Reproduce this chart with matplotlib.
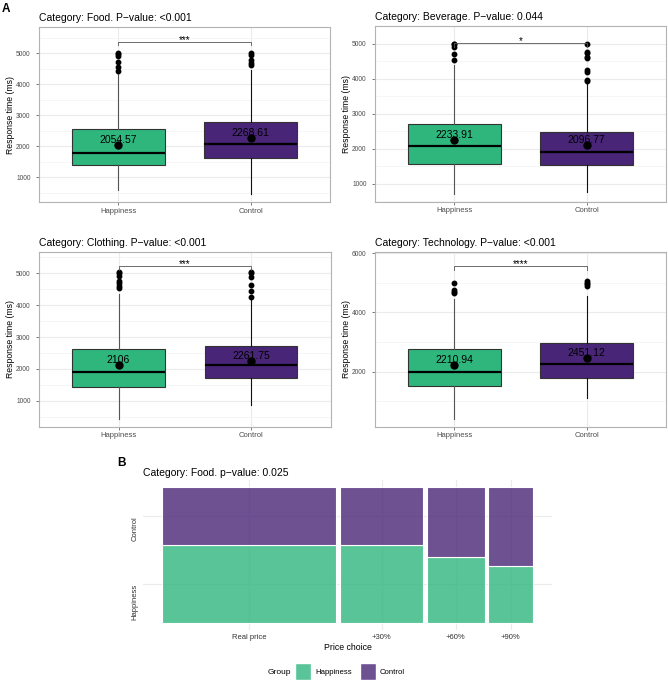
# Recreate the two-part figure: response-time boxplots (A) and a mosaic of price choice (B)
import numpy as np
import matplotlib.pyplot as plt
from matplotlib.colors import to_rgba
from matplotlib.patches import Patch

plt.rcParams['font.family'] = ['Liberation Sans', 'DejaVu Sans']

groups = ["Happiness", "Control"]
group_colors = ["#2EB67D", "#482576"]

# Panel A - boxplot summaries (Happiness, Control)
categories = ["Food", "Beverage", "Clothing", "Technology"]
p_values = ["<0.001", "0.044", "<0.001", "<0.001"]
stars = ["***", "*", "***", "****"]

q1 = [[1400, 1635], [1565, 1517], [1421, 1703], [1525, 1797]]
medians = [[1780, 2065], [2085, 1912], [1901, 2121], [1990, 2271]]
q3 = [[2550, 2775], [2695, 2477], [2614, 2708], [2759, 2963]]
whisker_low = [[590, 450], [690, 760], [416, 865], [386, 1098]]
whisker_high = [[4350, 4450], [4390, 3880], [4350, 4150], [4450, 4550]]
means = [[2054.57, 2268.61], [2233.91, 2096.77], [2106.00, 2261.75], [2210.94, 2451.12]]
outliers = [
    [[4420, 4560, 4730, 4920, 4980, 5000], [4630, 4700, 4800, 4950, 5000]],
    [[4540, 4700, 4900, 4980, 5000], [3930, 3960, 4200, 4250, 4580, 4620, 4720, 4750, 5000]],
    [[4550, 4600, 4700, 4750, 4900, 5000, 5030], [4260, 4440, 4620, 4880, 5000, 5030]],
    [[4650, 4700, 4750, 5000], [4880, 4950, 5000, 5050]],
]
bracket_y = [5370, 5010, 5229, 5569]
y_limits = [(200, 5850), (480, 5443), (184, 5678), (136, 6054)]
y_ticks = [[1000, 2000, 3000, 4000, 5000]] * 3 + [[2000, 4000, 6000]]
y_minor = [[500, 1500, 2500, 3500, 4500, 5500]] * 3 + [[1000, 3000, 5000]]

# Panel B - counts per price choice
price_choices = ["Real price", "+30%", "+60%", "+90%"]
happiness_counts = np.array([278, 132, 78, 52])
control_counts = np.array([206, 99, 82, 73])

W, H = 668, 680


def px_axes(fig, left, top, right, bottom):
    return fig.add_axes([left / W, (H - bottom) / H, (right - left) / W, (bottom - top) / H])


def fmt(v):
    return ("%.2f" % v).rstrip("0").rstrip(".")


def draw_box_panel(ax, i):
    stats = []
    for g in range(2):
        stats.append(dict(q1=q1[i][g], med=medians[i][g], q3=q3[i][g],
                          whislo=whisker_low[i][g], whishi=whisker_high[i][g],
                          fliers=outliers[i][g], label=groups[g]))
    bp = ax.bxp(stats, positions=[1, 2], widths=0.7, patch_artist=True, showcaps=False,
                boxprops=dict(edgecolor="#333333", linewidth=0.8),
                medianprops=dict(color="black", linewidth=1.6),
                whiskerprops=dict(linewidth=0.8),
                flierprops=dict(marker="o", markerfacecolor="black",
                                markeredgecolor="black", markersize=3.2))
    for patch, c in zip(bp["boxes"], group_colors):
        patch.set_facecolor(c)
    for k, w in enumerate(bp["whiskers"]):
        w.set_color("#555555" if k < 2 else "#111111")

    ax.plot([1, 2], means[i], "o", color="black", ms=5, zorder=4)
    for x, m in zip([1, 2], means[i]):
        ax.text(x, m, fmt(m), ha="center", va="bottom", fontsize=7.5, zorder=5)

    # significance bracket
    lo, hi = y_limits[i]
    t = 0.02 * (hi - lo)
    yb = bracket_y[i]
    ax.plot([1, 1, 2, 2], [yb - t, yb, yb, yb - t], color="#555555", lw=0.6)
    ax.annotate(stars[i], (1.5, yb), xytext=(0, -1), textcoords="offset points",
                ha="center", va="baseline", fontsize=7)

    ax.set_xlim(0.4, 2.6)
    ax.set_ylim(lo, hi)
    ax.set_yticks(y_ticks[i])
    ax.set_yticks(y_minor[i], minor=True)
    ax.set_xticks([1, 2], groups)
    ax.grid(which="major", color="#EBEBEB", lw=0.8)
    ax.grid(which="minor", axis="y", color="#F3F3F3", lw=0.5)
    ax.set_axisbelow(True)
    for s in ax.spines.values():
        s.set_color("#B3B3B3")
        s.set_linewidth(0.8)
    ax.tick_params(which="minor", length=0)
    ax.tick_params(axis="y", labelsize=4.8, length=2.5, width=0.6, color="#666666",
                   pad=3.5, labelcolor="#4D4D4D")
    ax.tick_params(axis="x", labelsize=5.5, length=2, width=0.6, color="#666666",
                   pad=2, labelcolor="#4D4D4D")
    ax.set_ylabel("Response time (ms)", fontsize=6.2, labelpad=0.8)
    ax.set_title(f"Category: {categories[i]}. P\u2212value: {p_values[i]}",
                 loc="left", fontsize=7.5, pad=4)


fig = plt.figure(figsize=(W / 100, H / 100), dpi=100)

boxes = [
    px_axes(fig, 39, 27, 330, 202),
    px_axes(fig, 375, 26, 666, 201.7),
    px_axes(fig, 39, 251.7, 330.5, 426.7),
    px_axes(fig, 375, 251.7, 666, 426.7),
]
for i, ax in enumerate(boxes):
    draw_box_panel(ax, i)

# Panel B - mosaic
axm = px_axes(fig, 143, 480, 552, 630)
totals = happiness_counts + control_counts
col_frac = totals / totals.sum()
gap = 0.01
widths = col_frac * (1 - gap * (len(totals) - 1))
lefts = np.concatenate([[0], np.cumsum(widths[:-1] + gap)])
centers = lefts + widths / 2
h_frac = happiness_counts / totals
c_frac = control_counts / totals

axm.bar(centers, h_frac, width=widths, color=to_rgba(group_colors[0], 0.8),
        edgecolor="white", linewidth=0.8)
axm.bar(centers, c_frac, bottom=h_frac, width=widths, color=to_rgba(group_colors[1], 0.8),
        edgecolor="white", linewidth=0.8)
axm.set_xlim(-0.05, 1.05)
axm.set_ylim(-0.05, 1.05)
axm.set_xticks(centers, price_choices)
axm.set_yticks([h_frac[0] / 2, (1 + h_frac[0]) / 2], groups)
plt.setp(axm.get_yticklabels(), rotation=90, va="top")
axm.grid(color="#EBEBEB", lw=0.8)
axm.set_axisbelow(True)
for s in axm.spines.values():
    s.set_visible(False)
axm.tick_params(length=0, labelsize=5.5, labelcolor="#333333")
axm.tick_params(axis="y", pad=3)
axm.tick_params(axis="x", pad=3)
axm.set_xlabel("Price choice", fontsize=6.3, labelpad=1)
axm.set_title("Category: Food. p\u2212value: 0.025", loc="left", fontsize=7.5, pad=3)

# legend
handles = [Patch(facecolor=to_rgba(c, 0.8), edgecolor="white", label=g)
           for g, c in zip(groups, group_colors)]
fig.legend(handles=handles, ncol=2, loc="center", bbox_to_anchor=(350 / W, 1 - 671.5 / H),
           frameon=False, fontsize=5.6, handlelength=2.05, handleheight=3.0,
           handletextpad=0.55, columnspacing=1.0, borderpad=0)
fig.text(267.3 / W, 1 - 672 / H, "Group", fontsize=6, ha="left", va="center")

# panel letters
fig.text(6 / W, 1 - 8.5 / H, "A", fontsize=8.5, fontweight="bold", ha="center", va="center")
fig.text(121 / W, 1 - 463 / H, "B", fontsize=8.5, fontweight="bold", ha="center", va="center")

fig.savefig("out.png", dpi=100)
